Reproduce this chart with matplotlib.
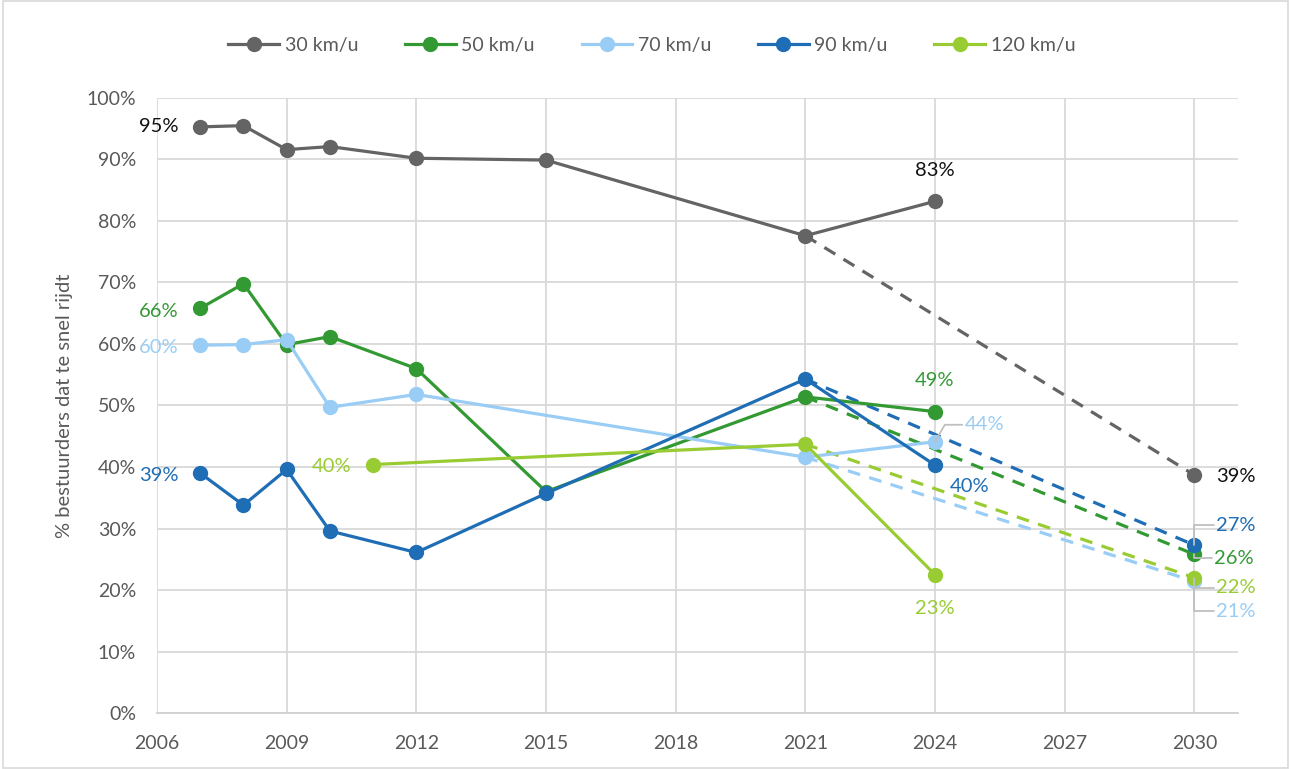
import matplotlib.pyplot as plt
from matplotlib.patches import Rectangle

plt.rcParams['font.family'] = ['Lato', 'DejaVu Sans']

# measured values (percentage of drivers speeding)
years_a = [2007, 2008, 2009, 2010, 2012, 2015, 2021, 2024]
v30 = [95.3, 95.5, 91.6, 92.1, 90.2, 89.9, 77.6, 83.2]
v50 = [65.8, 69.8, 59.9, 61.2, 56.0, 36.0, 51.4, 49.0]
v90 = [39.0, 33.8, 39.6, 29.6, 26.1, 35.7, 54.3, 40.3]
years70 = [2007, 2008, 2009, 2010, 2012, 2021, 2024]
v70 = [59.8, 59.9, 60.7, 49.7, 51.8, 41.6, 44.1]
years120 = [2011, 2021, 2024]
v120 = [40.4, 43.7, 22.5]

# targets for 2030 (dashed from 2021)
target_year = 2030
t30, t50, t70, t90, t120 = 38.7, 25.8, 21.4, 27.3, 22.0

names = ['30 km/u', '50 km/u', '70 km/u', '90 km/u', '120 km/u']
colors = ['#646464', '#339933', '#99cdf5', '#1f6db5', '#99cc33']

series = [
    (years_a, v30, t30),
    (years_a, v50, t50),
    (years70, v70, t70),
    (years_a, v90, t90),
    (years120, v120, t120),
]

fig = plt.figure(figsize=(12.91, 7.69), dpi=100)
ax = fig.add_axes([0.1216, 0.0728, 0.837, 0.7998])
fig.patches.append(Rectangle((0.002, 0.001), 0.996, 0.998, transform=fig.transFigure,
                             fill=False, edgecolor='#d9d9d9', lw=1.2))

lw = 2.3
ms = 10
handles = []
for (xs, ys, t), name, c in zip(series, names, colors):
    i21 = xs.index(2021)
    ax.plot([xs[i21], target_year], [ys[i21], t], color=c, lw=lw,
            ls=(0, (4, 3)), zorder=2)
    ax.plot([target_year], [t], 'o', color=c, ms=ms, zorder=3)
    h, = ax.plot(xs, ys, '-o', color=c, lw=lw, ms=ms, label=name, zorder=3)
    handles.append(h)

ax.set_xlim(2006, 2031)
ax.set_ylim(0, 100)
ax.set_xticks(range(2006, 2031, 3))
ax.set_yticks(range(0, 101, 10))
ax.set_yticklabels([f'{v}%' for v in range(0, 101, 10)])
ax.grid(True, color='#d9d9d9', lw=1.3)
ax.set_axisbelow(True)
for s in ['top', 'right', 'left']:
    ax.spines[s].set_visible(False)
ax.spines['bottom'].set_color('#d0d0d0')
ax.spines['bottom'].set_linewidth(1.3)
ax.tick_params(length=0, labelsize=14, labelcolor='#595959')
ax.tick_params(axis='x', pad=16)
ax.tick_params(axis='y', pad=15)
ax.set_ylabel('% bestuurders dat te snel rijdt', fontsize=14.5, color='#595959', labelpad=10)

fig.legend(handles=handles, loc='center', bbox_to_anchor=(0.505, 0.941), ncol=5,
           frameon=False, fontsize=14, labelcolor='#595959', handlelength=2.6,
           columnspacing=2.4, handletextpad=0.3)

fs = 14.5


def lab(x, y, txt, c, dx, dy, ha='left', leader=None):
    kw = {}
    if leader is not None:
        kw['arrowprops'] = dict(arrowstyle='-', color='#bfbfbf', lw=1.3,
                                connectionstyle=leader, shrinkA=0, shrinkB=0)
    ax.annotate(txt, (x, y), xytext=(dx, dy), textcoords='offset pixels',
                ha=ha, va='center', color=c, fontsize=fs, **kw)


black = '#111111'
lab(2007, v30[0], '95%', black, -22, 0, 'right')
lab(2007, v50[0], '66%', colors[1], -22, -3, 'right')
lab(2007, v70[0], '60%', colors[2], -22, -2, 'right')
lab(2007, v90[0], '39%', colors[3], -22, -2, 'right')
lab(2011, v120[0], '40%', colors[4], -22, -2, 'right')
lab(2024, v30[-1], '83%', black, 0, 31, 'center')
lab(2024, v50[-1], '49%', colors[1], 0, 31, 'center')
lab(2024, v70[-1], '44%', colors[2], 30, 17, 'left', leader='angle,angleA=0,angleB=60')
lab(2024, v90[-1], '40%', colors[3], 15, -21, 'left')
lab(2024, v120[-1], '23%', colors[4], 0, -34, 'center')
lab(target_year, t30, '39%', black, 22, -2, 'left')
lab(target_year, t90, '27%', colors[3], 22, 20, 'left', leader='angle,angleA=0,angleB=90')
lab(target_year, t50, '26%', colors[1], 20, -4, 'left', leader='angle,angleA=0,angleB=90')
lab(target_year, t120, '22%', colors[4], 22, -10, 'left', leader='angle,angleA=0,angleB=90')
lab(target_year, t70, '21%', colors[2], 22, -30, 'left', leader='angle,angleA=0,angleB=90')

fig.savefig('out.png', dpi=100)
